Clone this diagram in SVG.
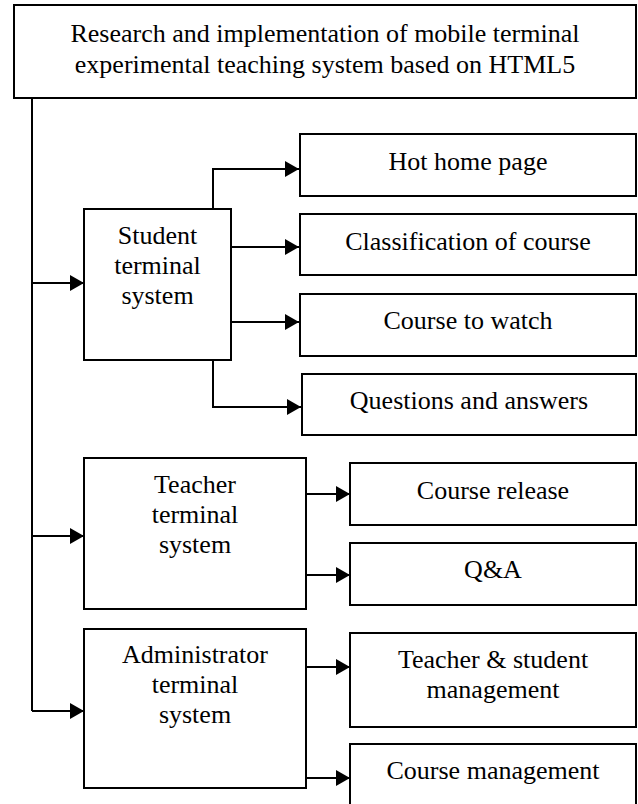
<svg xmlns="http://www.w3.org/2000/svg" width="638" height="804" viewBox="0 0 638 804">
<style>
.box{fill:#fff;stroke:#000;stroke-width:2}
.t{font-family:"Liberation Serif","Times New Roman",serif;font-size:26px;fill:#000;text-anchor:middle}
.c{fill:none;stroke:#000;stroke-width:2}
</style>
<defs>
<marker id="ah" markerUnits="userSpaceOnUse" markerWidth="16" markerHeight="18" refX="14" refY="8" orient="auto">
<path d="M0,0 L14,8 L0,16 Z" fill="#000"/>
</marker>
</defs>
<rect width="638" height="804" fill="#fff"/>
<g id="connectors">
<path class="c" d="M32,98 V711"/>
<path class="c" d="M32,283 H84" marker-end="url(#ah)"/>
<path class="c" d="M32,536 H84" marker-end="url(#ah)"/>
<path class="c" d="M32,711 H84" marker-end="url(#ah)"/>
<path class="c" d="M213,209 V169 H299" marker-end="url(#ah)"/>
<path class="c" d="M231,247 H299" marker-end="url(#ah)"/>
<path class="c" d="M231,322 H299" marker-end="url(#ah)"/>
<path class="c" d="M213,360 V407 H301" marker-end="url(#ah)"/>
<path class="c" d="M306,494 H350" marker-end="url(#ah)"/>
<path class="c" d="M306,575 H350" marker-end="url(#ah)"/>
<path class="c" d="M306,667 H350" marker-end="url(#ah)"/>
<path class="c" d="M306,778 H350" marker-end="url(#ah)"/>
</g>
<g id="title">
<rect class="box" x="14" y="5" width="622" height="93"/>
<text class="t" x="325" y="42">Research and implementation of mobile terminal</text>
<text class="t" x="325" y="73">experimental teaching system based on HTML5</text>
</g>
<g id="student">
<rect class="box" x="84" y="209" width="147" height="151"/>
<text class="t" x="157.5" y="244">Student</text>
<text class="t" x="157.5" y="274">terminal</text>
<text class="t" x="157.5" y="304">system</text>
</g>
<g id="hot">
<rect class="box" x="300" y="134" width="336" height="62"/>
<text class="t" x="468" y="170">Hot home page</text>
</g>
<g id="classification">
<rect class="box" x="300" y="214" width="336" height="61"/>
<text class="t" x="468" y="250">Classification of course</text>
</g>
<g id="watch">
<rect class="box" x="300" y="294" width="336" height="62"/>
<text class="t" x="468" y="329">Course to watch</text>
</g>
<g id="qa">
<rect class="box" x="302" y="374" width="334" height="61"/>
<text class="t" x="469" y="409">Questions and answers</text>
</g>
<g id="teacher">
<rect class="box" x="84" y="458" width="222" height="151"/>
<text class="t" x="195" y="493">Teacher</text>
<text class="t" x="195" y="523">terminal</text>
<text class="t" x="195" y="553">system</text>
</g>
<g id="release">
<rect class="box" x="350" y="463" width="286" height="62"/>
<text class="t" x="493" y="499">Course release</text>
</g>
<g id="teacher-qa">
<rect class="box" x="350" y="543" width="286" height="62"/>
<text class="t" x="493" y="578">Q&amp;A</text>
</g>
<g id="admin">
<rect class="box" x="84" y="629" width="222" height="159"/>
<text class="t" x="195" y="663">Administrator</text>
<text class="t" x="195" y="693">terminal</text>
<text class="t" x="195" y="723">system</text>
</g>
<g id="ts-management">
<rect class="box" x="350" y="633" width="286" height="94"/>
<text class="t" x="493" y="668">Teacher &amp; student</text>
<text class="t" x="493" y="698">management</text>
</g>
<g id="course-management">
<rect class="box" x="350" y="744" width="286" height="70"/>
<text class="t" x="493" y="779">Course management</text>
</g>
</svg>
